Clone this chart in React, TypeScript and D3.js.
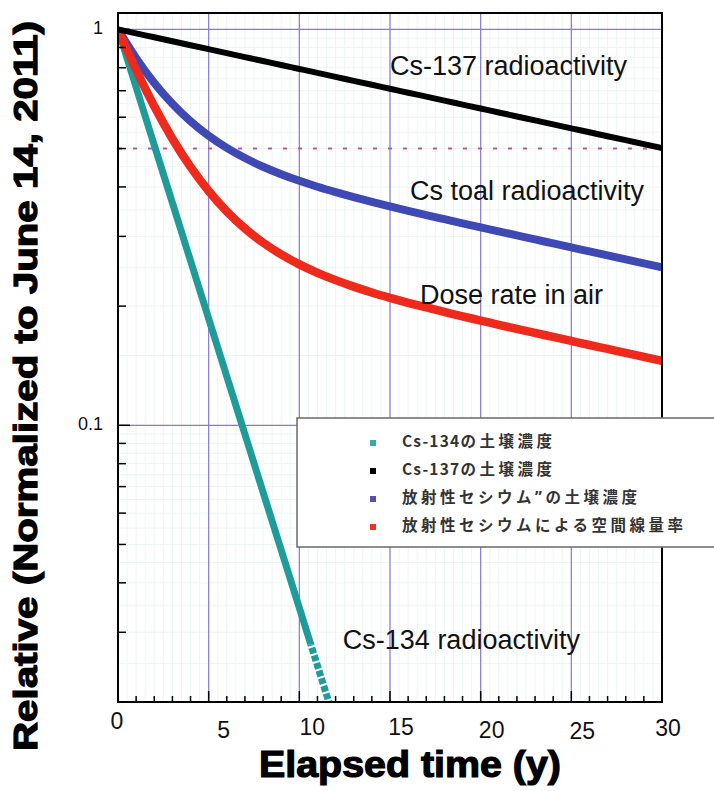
import React from 'react';
import * as d3 from 'd3';

// ---------- data ----------
const YEARS = [0, 1, 2, 3, 4, 5, 6, 7, 8, 9, 10, 11, 12, 13, 14, 15, 16, 17, 18, 19, 20, 21, 22, 23, 24, 25, 26, 27, 28, 29, 30];
const CS134_YEARS = [0, 1, 2, 3, 4, 5, 6, 7, 8, 9, 10, 11, 12];
const CS134 = [1, 0.7143, 0.5102, 0.3645, 0.2603, 0.186, 0.1328, 0.09488, 0.06777, 0.04841, 0.03458, 0.0247, 0.01764];
const CS137 = [1, 0.9772, 0.955, 0.9333, 0.9121, 0.8913, 0.871, 0.8512, 0.8318, 0.8129, 0.7944, 0.7763, 0.7587, 0.7414, 0.7245, 0.7081, 0.6919, 0.6762, 0.6608, 0.6458, 0.6311, 0.6167, 0.6027, 0.589, 0.5756, 0.5625, 0.5497, 0.5372, 0.525, 0.513, 0.5014];
const CS_TOTAL = [1, 0.8458, 0.7326, 0.6489, 0.5862, 0.5387, 0.5019, 0.4731, 0.4498, 0.4307, 0.4145, 0.4005, 0.3882, 0.377, 0.3668, 0.3573, 0.3482, 0.3397, 0.3316, 0.3237, 0.3161, 0.3088, 0.3017, 0.2947, 0.288, 0.2814, 0.2749, 0.2687, 0.2625, 0.2565, 0.2507];
const DOSE_RATE = [1, 0.7906, 0.6392, 0.5295, 0.4493, 0.3906, 0.3469, 0.3142, 0.2893, 0.2701, 0.2549, 0.2427, 0.2326, 0.224, 0.2165, 0.2099, 0.2039, 0.1984, 0.1933, 0.1884, 0.1839, 0.1794, 0.1752, 0.1711, 0.1672, 0.1633, 0.1595, 0.1559, 0.1523, 0.1488, 0.1454];
const HALF_LINE = 0.5;
const CS134_MARKER_START = 0.028; // below this value the Cs-134 curve is drawn as square markers

const X_TICKS = [0, 5, 10, 15, 20, 25, 30];
const X_MINOR = YEARS;
const Y_MAJOR = [1, 0.1];
const Y_MAJOR_LABELS = ['1', '0.1'];
const Y_MINOR = [0.9, 0.8, 0.7, 0.6, 0.5, 0.4, 0.3, 0.2, 0.09, 0.08, 0.07, 0.06, 0.05, 0.04, 0.03, 0.02];

const LEGEND_LABELS = ['Cs-134の土壌濃度', 'Cs-137の土壌濃度', '放射性セシウム\u02BAの土壌濃度', '放射性セシウムによる空間線量率'];
const ANNOTATION_TEXTS = ['Cs-137 radioactivity', 'Cs toal radioactivity', 'Dose rate in air', 'Cs-134 radioactivity'];
const ANNOTATION_X = [15.0, 16.1, 16.65, 12.4];
const ANNOTATION_Y = [0.8, 0.386, 0.211, 0.0284];

const X_TITLE = 'Elapsed time (y)';
const Y_TITLE = 'Relative (Normalized to June 14, 2011)';

// ---------- layout / style ----------
const W = 714, H = 791;
const L = 118, R = 662, T = 13, B = 702;
const COLORS = { cs134: '#1f9c9a', cs137: '#000000', total: '#3f49b3', dose: '#ee2a1c' };
const LEGEND_COLORS = ['#3aa9a6', '#000000', '#5050b0', '#e8322a'];
const FONT = '"Liberation Sans", Arial, Helvetica, sans-serif';
const CJK = '"Noto Sans CJK JP", "Noto Sans", sans-serif';
const X_LABEL_NUDGE = [[-1, 21], [15, 30], [13, 27], [11, 27], [11, 30], [11, 31], [6, 28]];

function splitRuns(s: string) {
  const runs: { t: string; latin: boolean }[] = [];
  for (const ch of s) {
    const latin = ch.charCodeAt(0) < 128;
    const last = runs[runs.length - 1];
    if (last && last.latin === latin) last.t += ch;
    else runs.push({ t: ch, latin });
  }
  return runs;
}

export default function App() {
  const x = d3.scaleLinear().domain([0, 30]).range([L, R]);
  const y = d3.scaleLog().domain([0.02, 1.1]).range([B, T]);

  const line = (xs: number[], ys: number[]) =>
    d3.line<number>()
      .x((_, i) => x(xs[i]))
      .y((v) => y(v))
      .curve(d3.curveMonotoneX)(ys) || '';

  const faintX = d3.range(0, 30.001, 0.5);
  const faintY = [...Y_MINOR, 0.95, 0.85, 0.75, 0.65, 0.55, 0.45, 0.35, 0.25, 0.15, 0.095, 0.085, 0.075, 0.065, 0.055, 0.045, 0.035, 0.025];
  const markerY = y(CS134_MARKER_START);

  return (
    <svg width={W} height={H} style={{ position: 'absolute', left: 0, top: 0, background: '#fff' }}>
      <defs>
        <clipPath id="plotTop">
          <rect x={L} y={T} width={R - L} height={markerY - T} />
        </clipPath>
        <clipPath id="plotBottom">
          <rect x={L} y={markerY} width={R - L} height={B - markerY} />
        </clipPath>
        <clipPath id="plot">
          <rect x={L} y={T} width={R - L} height={B - T} />
        </clipPath>
      </defs>
      <rect x={0} y={0} width={W} height={H} fill="#ffffff" />

      {/* faint background grid */}
      <g stroke="#edf6f2" strokeWidth={1}>
        {faintX.map((v, i) => <line key={'fx' + i} x1={x(v)} x2={x(v)} y1={T} y2={B} />)}
        {faintY.map((v, i) => <line key={'fy' + i} x1={L} x2={R} y1={y(v)} y2={y(v)} />)}
      </g>

      {/* purple major grid */}
      <g stroke="#8a78d6" strokeWidth={1.2}>
        {X_TICKS.slice(1, -1).map((v) => <line key={'gx' + v} x1={x(v)} x2={x(v)} y1={T} y2={B} />)}
        {Y_MAJOR.map((v) => <line key={'gy' + v} x1={L} x2={R} y1={y(v)} y2={y(v)} />)}
      </g>

      {/* dotted 0.5 line */}
      <line x1={L} x2={R} y1={y(HALF_LINE)} y2={y(HALF_LINE)} stroke="#b25c9c" strokeWidth={2} strokeDasharray="4 11" />

      {/* curves */}
      <g fill="none" strokeLinecap="butt">
        <path clipPath="url(#plotTop)" d={line(CS134_YEARS, CS134)} stroke={COLORS.cs134} strokeWidth={7} />
        <path clipPath="url(#plotBottom)" d={line(CS134_YEARS, CS134)} stroke={COLORS.cs134} strokeWidth={7} strokeDasharray="6 2" />
        <g clipPath="url(#plot)">
          <path d={line(YEARS, CS_TOTAL)} stroke={COLORS.total} strokeWidth={8} />
          <path d={line(YEARS, DOSE_RATE)} stroke={COLORS.dose} strokeWidth={8.5} />
          <path d={line(YEARS, CS137)} stroke={COLORS.cs137} strokeWidth={6} />
        </g>
      </g>

      {/* annotations */}
      <g fontFamily={FONT} fontSize={27} fill="#111">
        {ANNOTATION_TEXTS.map((t, i) => (
          <text key={t} x={x(ANNOTATION_X[i])} y={y(ANNOTATION_Y[i])} dominantBaseline="middle">{t}</text>
        ))}
      </g>

      {/* frame */}
      <rect x={L} y={T} width={R - L} height={B - T} fill="none" stroke="#000" strokeWidth={2} />

      {/* ticks */}
      <g stroke="#000" strokeWidth={1.5}>
        {X_MINOR.map((v) => (
          <line key={'xt' + v} x1={x(v)} x2={x(v)} y1={B} y2={B - (v % 5 === 0 ? 11 : 6)} />
        ))}
        {Y_MAJOR.map((v) => <line key={'ytM' + v} x1={L} x2={L + 12} y1={y(v)} y2={y(v)} />)}
        {Y_MINOR.map((v) => <line key={'yt' + v} x1={L} x2={L + 8} y1={y(v)} y2={y(v)} />)}
      </g>

      {/* tick labels */}
      <g fontFamily={FONT} fontSize={23} fill="#111" textAnchor="middle">
        {X_TICKS.map((v, i) => (
          <text key={'xl' + v} x={x(v) + X_LABEL_NUDGE[i][0]} y={B + X_LABEL_NUDGE[i][1]} dominantBaseline="middle">{v}</text>
        ))}
      </g>
      <g fontFamily={FONT} fontSize={18} fill="#111" textAnchor="end">
        {Y_MAJOR.map((v, i) => (
          <text key={'yl' + v} x={L - 15} y={y(v)} dominantBaseline="middle">{Y_MAJOR_LABELS[i]}</text>
        ))}
      </g>

      {/* axis titles */}
      <text x={410} y={777} textAnchor="middle" fontFamily={FONT} fontWeight="bold" fontSize={36} textLength={302} lengthAdjust="spacingAndGlyphs" fill="#000" stroke="#000" strokeWidth={1.2}>{X_TITLE}</text>
      <text transform={`translate(37, 386) rotate(-90)`} textAnchor="middle" fontFamily={FONT} fontWeight="bold" fontSize={33} textLength={730} lengthAdjust="spacingAndGlyphs" fill="#000" stroke="#000" strokeWidth={1.2}>{Y_TITLE}</text>

      {/* legend */}
      <g>
        <rect x={297} y={418} width={440} height={129} fill="#fff" stroke="#6a6a6a" strokeWidth={1.5} />
        {LEGEND_LABELS.map((t, i) => {
          const cy = 443 + i * 28;
          return (
            <g key={t}>
              <rect x={370} y={cy - 3} width={6} height={6} fill={LEGEND_COLORS[i]} />
              <text x={402} y={cy} dominantBaseline="middle" fontFamily={CJK} fontWeight="bold" fontSize={15.5} fill="#333">
                {splitRuns(t).map((r, k) => (
                  <tspan key={k} letterSpacing={r.latin ? 1.2 : 3.5}>{r.t}</tspan>
                ))}
              </text>
            </g>
          );
        })}
      </g>
    </svg>
  );
}
